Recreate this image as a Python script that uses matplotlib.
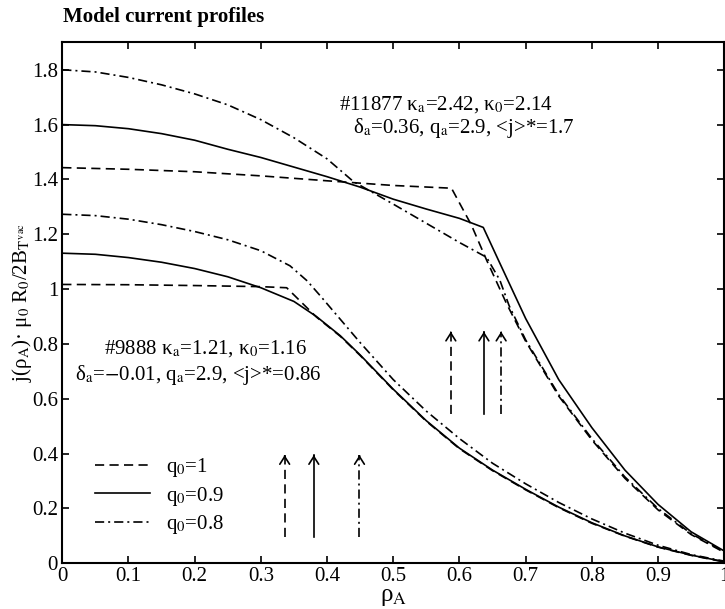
import numpy as np
import matplotlib
matplotlib.use("Agg")
import matplotlib.pyplot as plt

plt.rcParams["font.family"] = ["Liberation Serif", "DejaVu Serif"]
plt.rcParams["mathtext.fontset"] = "stix"

# #11877 profiles (upper group)
x_hi_q10 = [0, 0.1, 0.2, 0.3, 0.4, 0.5, 0.588, 0.618, 0.641, 0.671, 0.70, 0.75, 0.80, 0.85, 0.90, 0.95, 1.0]
j_hi_q10 = [1.443, 1.437, 1.428, 1.413, 1.395, 1.378, 1.368, 1.234, 1.106, 0.948, 0.81, 0.61, 0.45, 0.31, 0.195, 0.105, 0.04]

x_hi_q09 = [0, 0.05, 0.1, 0.15, 0.2, 0.25, 0.3, 0.35, 0.4, 0.45, 0.5, 0.55, 0.6, 0.636, 0.66, 0.70, 0.75, 0.80, 0.85, 0.90, 0.95, 1.0]
j_hi_q09 = [1.60, 1.596, 1.585, 1.567, 1.543, 1.51, 1.48, 1.445, 1.41, 1.372, 1.328, 1.292, 1.258, 1.225, 1.10, 0.893, 0.67, 0.495, 0.34, 0.215, 0.115, 0.045]

x_hi_q08 = [0, 0.05, 0.1, 0.15, 0.2, 0.25, 0.3, 0.35, 0.4, 0.44, 0.5, 0.55, 0.6, 0.641, 0.661, 0.675, 0.70, 0.75, 0.80, 0.85, 0.90, 0.95, 1.0]
j_hi_q08 = [1.80, 1.792, 1.772, 1.745, 1.712, 1.672, 1.618, 1.552, 1.475, 1.392, 1.31, 1.24, 1.17, 1.116, 1.033, 0.94, 0.815, 0.615, 0.455, 0.315, 0.2, 0.108, 0.042]

# #9888 profiles (lower group)
x_lo_q10 = [0, 0.1, 0.2, 0.3, 0.339, 0.384, 0.42, 0.45, 0.5, 0.55, 0.6, 0.65, 0.7, 0.75, 0.8, 0.85, 0.9, 0.95, 1.0]
j_lo_q10 = [1.017, 1.016, 1.013, 1.009, 1.005, 0.898, 0.828, 0.758, 0.633, 0.518, 0.418, 0.338, 0.268, 0.203, 0.146, 0.099, 0.059, 0.029, 0.005]

x_lo_q09 = [0, 0.05, 0.1, 0.15, 0.2, 0.25, 0.3, 0.35, 0.384, 0.42, 0.45, 0.5, 0.55, 0.6, 0.65, 0.7, 0.75, 0.8, 0.85, 0.9, 0.95, 1.0]
j_lo_q09 = [1.131, 1.127, 1.115, 1.098, 1.075, 1.045, 1.005, 0.955, 0.90, 0.83, 0.76, 0.635, 0.52, 0.42, 0.34, 0.27, 0.205, 0.148, 0.10, 0.06, 0.03, 0.006]

x_lo_q08 = [0, 0.05, 0.1, 0.15, 0.2, 0.25, 0.3, 0.344, 0.37, 0.39, 0.42, 0.45, 0.5, 0.55, 0.6, 0.65, 0.7, 0.75, 0.8, 0.85, 0.9, 0.95, 1.0]
j_lo_q08 = [1.273, 1.268, 1.255, 1.235, 1.21, 1.18, 1.14, 1.085, 1.03, 0.975, 0.89, 0.805, 0.67, 0.555, 0.455, 0.365, 0.29, 0.222, 0.162, 0.11, 0.066, 0.032, 0.008]

# q=1 surface positions (arrows)
arrow_x_lo = [0.336, 0.380, 0.449]
arrow_x_hi = [0.587, 0.637, 0.663]
arrow_y_lo = (0.095, 0.395)
arrow_y_hi = (0.545, 0.845)

labels = [r"q$_0$=1", r"q$_0$=0.9", r"q$_0$=0.8"]
dash = (0, (5.5, 3.2))
dashdot = (0, (5.5, 2.4, 1.2, 2.4))
styles = [dash, "-", dashdot]

fig = plt.figure(figsize=(7.25, 6.09), dpi=100)
ax = fig.add_axes([0.0859, 0.0750, 0.913, 0.8555])

lw = 1.2
lines = []
for xs, js, ls, lab in zip([x_hi_q10, x_hi_q09, x_hi_q08], [j_hi_q10, j_hi_q09, j_hi_q08], styles, labels):
    l, = ax.plot(xs, js, color="k", lw=lw, linestyle=ls, label=lab)
    lines.append(l)
for xs, js, ls in zip([x_lo_q10, x_lo_q09, x_lo_q08], [j_lo_q10, j_lo_q09, j_lo_q08], styles):
    ax.plot(xs, js, color="k", lw=lw, linestyle=ls)

for xa_list, (y0, y1) in [(arrow_x_lo, arrow_y_lo), (arrow_x_hi, arrow_y_hi)]:
    for xa, ls in zip(xa_list, styles):
        ax.plot([xa, xa], [y0, y1], color="k", lw=lw, linestyle=ls)
        ax.annotate("", xy=(xa, y1), xytext=(xa, y1 - 0.004),
                    arrowprops=dict(arrowstyle="->,head_length=0.55,head_width=0.35",
                                    color="k", lw=lw, shrinkA=0, shrinkB=0))

fs = 15
ax.text(0.418, 1.672, r"#11877 κ$_\mathrm{a}$=2.42, κ$_0$=2.14", fontsize=fs, va="center", ha="left")
ax.text(0.439, 1.587, r"δ$_\mathrm{a}$=0.36, q$_\mathrm{a}$=2.9, <j>*=1.7", fontsize=fs, va="center", ha="left")
ax.text(0.063, 0.785, r"#9888 κ$_\mathrm{a}$=1.21, κ$_0$=1.16", fontsize=fs, va="center", ha="left")
ax.text(0.019, 0.687, r"δ$_\mathrm{a}$=$-$0.01, q$_\mathrm{a}$=2.9, <j>*=0.86", fontsize=fs, va="center", ha="left")

ax.legend(handles=lines, loc="center left", bbox_to_anchor=(0.049, 0.129), frameon=False,
          fontsize=fs, handlelength=2.64, handletextpad=0.77, labelspacing=0.25,
          borderpad=0, borderaxespad=0)

ax.set_xlim(0, 1)
ax.set_ylim(0, 1.9)
ax.set_xticks(np.arange(0, 1.01, 0.1))
ax.set_yticks(np.arange(0, 1.81, 0.2))
fmt = plt.FuncFormatter(lambda v, p: f"{v:.1f}".rstrip("0").rstrip(".") if v else "0")
ax.xaxis.set_major_formatter(fmt)
ax.yaxis.set_major_formatter(fmt)
ax.tick_params(direction="in", length=5, width=1.2, labelsize=fs, top=True, right=True, pad=3)
for s in ax.spines.values():
    s.set_linewidth(1.5)

ax.set_xlabel(r"ρ$_\mathrm{A}$", fontsize=18, labelpad=0)
ax.set_ylabel(r"j(ρ$_\mathrm{A}$)· μ$_0$ R$_0$/2B$_{\mathrm{T}^{\,\mathrm{vac}}}$", fontsize=fs)
ax.yaxis.set_label_coords(-0.042, 0.5)

fig.text(0.087, 0.972, "Model current profiles", fontsize=15, fontweight="bold", ha="left", va="center")

fig.savefig("out.png", dpi=100)
